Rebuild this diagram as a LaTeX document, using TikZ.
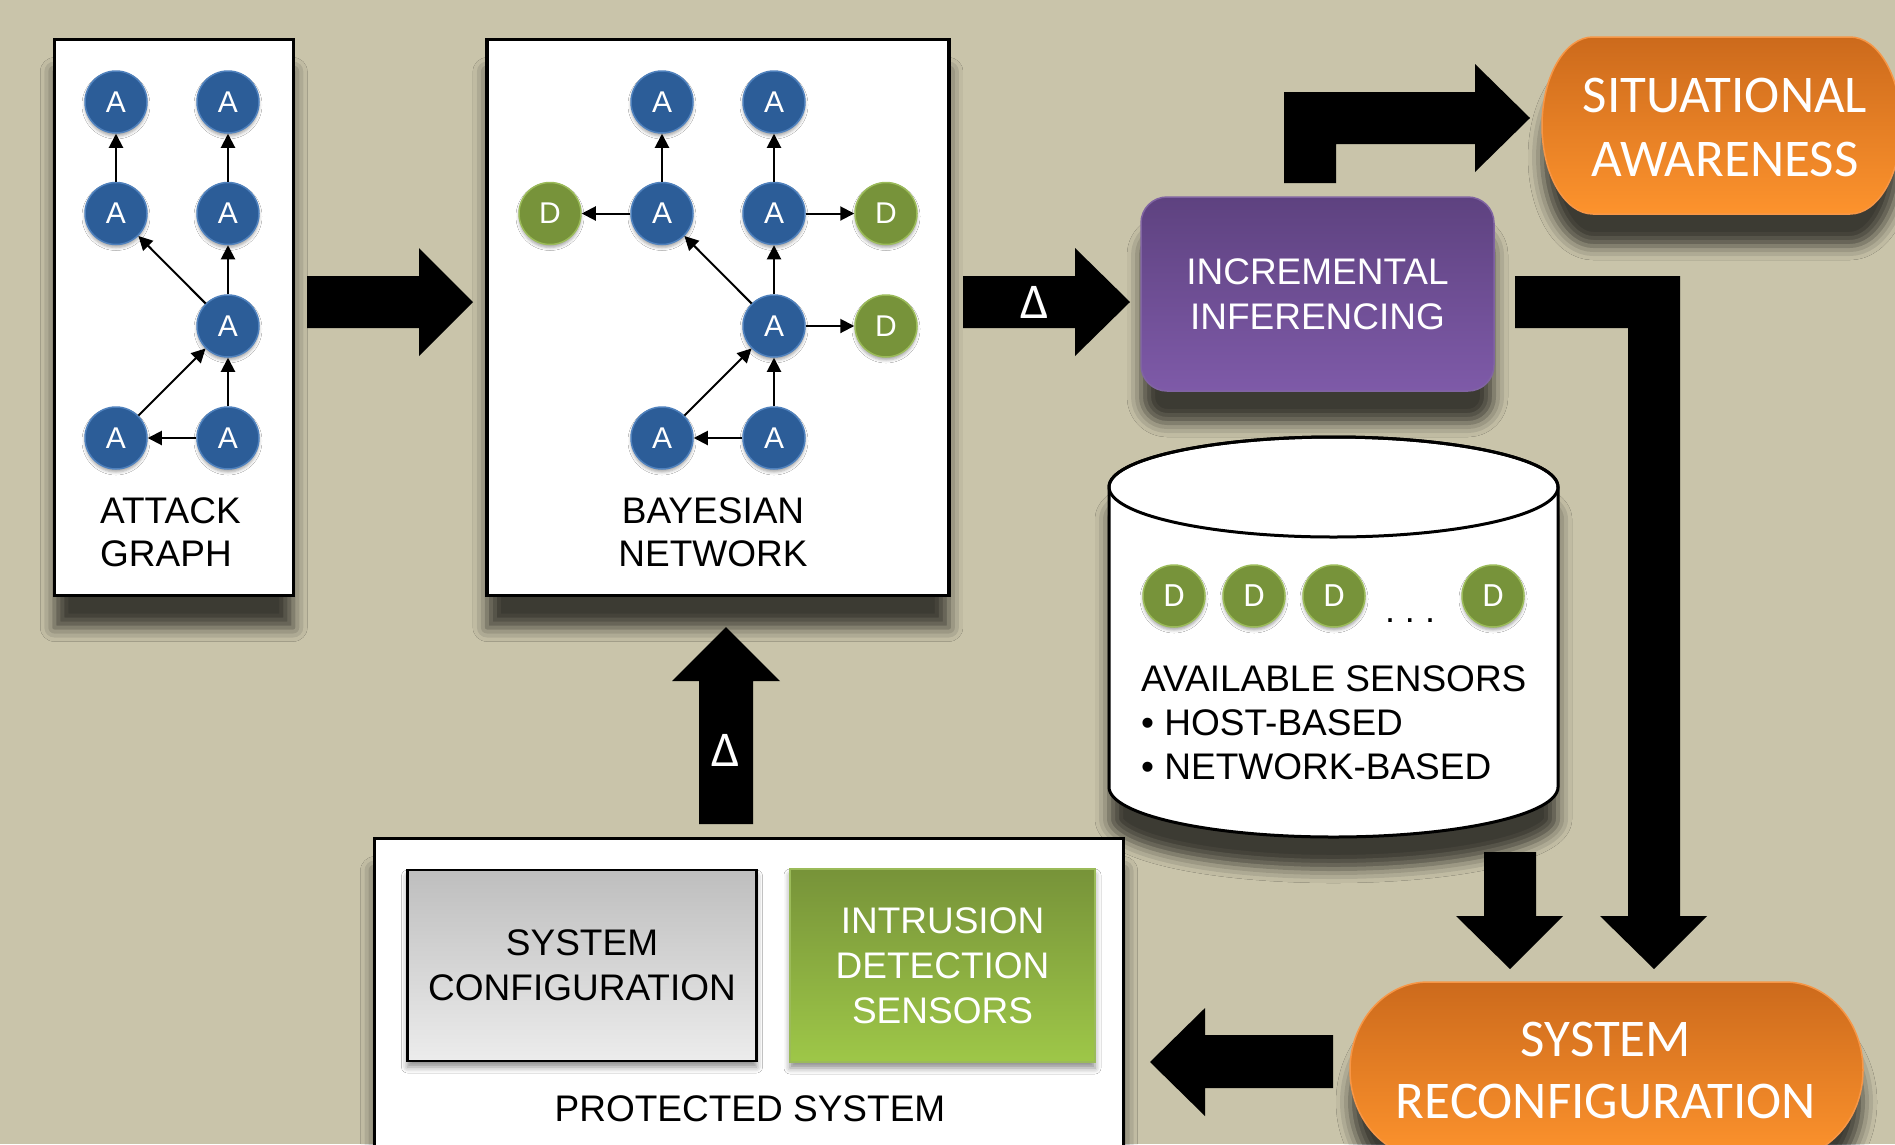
\documentclass[tikz,border=0pt]{standalone}
\usepackage{fontspec}
\setmainfont{Liberation Sans}
\newfontfamily\calib{Carlito}
\usetikzlibrary{arrows.meta,shadows.blur}

\definecolor{bg}{RGB}{201,196,170}
\definecolor{nodeblue}{RGB}{44,93,152}
\definecolor{nodeblueedge}{RGB}{79,129,189}
\definecolor{nodegreen}{RGB}{119,147,58}
\definecolor{nodegreenedge}{RGB}{155,187,89}
\definecolor{purpletop}{RGB}{94,66,128}
\definecolor{purplebot}{RGB}{126,90,168}
\definecolor{purpleedge}{RGB}{128,100,162}
\definecolor{orangetop}{RGB}{204,106,28}
\definecolor{orangebot}{RGB}{253,147,45}
\definecolor{orangeedge}{RGB}{247,150,70}
\definecolor{idstop}{RGB}{119,147,57}
\definecolor{idsbot}{RGB}{158,199,72}
\definecolor{graytop}{RGB}{190,190,190}
\definecolor{graybot}{RGB}{236,236,236}

\tikzset{
  boxshadow/.style={blur shadow={shadow xshift=0pt,shadow yshift=-32pt,shadow blur radius=14pt,shadow opacity=70}},
  smallshadow/.style={blur shadow={shadow xshift=0pt,shadow yshift=-6pt,shadow blur radius=6pt,shadow opacity=45}},
  nodeshadow/.style={blur shadow={shadow xshift=0pt,shadow yshift=-3pt,shadow blur radius=3pt,shadow opacity=35}},
  panel/.style={draw=black,line width=3.2pt,fill=white,inner sep=0pt,boxshadow},
  anode/.style={circle,minimum size=62pt,inner sep=0pt,fill=nodeblue,draw=nodeblueedge,
    line width=1.5pt,text=white,font=\fontsize{30}{30}\selectfont,nodeshadow},
  dnode/.style={anode,fill=nodegreen,draw=nodegreenedge},
  sensornode/.style={dnode,font=\calib\fontsize{34}{34}\selectfont},
  link/.style={line width=2pt,-{Triangle[length=14pt,width=14pt]}},
  blockarrow/.style={fill=black},
  captiontext/.style={inner sep=0pt,font=\fontsize{37}{43}\selectfont,align=center},
  deltatext/.style={inner sep=0pt,text=white,font=\calib\fontsize{50}{50}\selectfont},
  stadium/.style={top color=orangetop,bottom color=orangebot,draw=orangeedge,line width=1.5pt,boxshadow},
  stadiumtext/.style={inner sep=0pt,text=white,align=center,font=\calib\fontsize{53}{64}\selectfont},
}

\begin{document}
\begin{tikzpicture}[x=1pt,y=-1pt]
\useasboundingbox (0,0) rectangle (1895,1144);
\clip (0,0) rectangle (1895,1144);
\fill[bg] (0,0) rectangle (1895,1144);

% ---------- attack graph ----------
\node[panel,minimum width=239pt,minimum height=556pt] (agpanel) at (173.8,317.5) {};
\node[anode] (g11) at (116,102) {A};
\node[anode] (g12) at (228,102) {A};
\node[anode] (g21) at (116,213.5) {A};
\node[anode] (g22) at (228,213.5) {A};
\node[anode] (g32) at (228,326) {A};
\node[anode] (g41) at (116,438) {A};
\node[anode] (g42) at (228,438) {A};
\draw[link] (g21) -- (g11);
\draw[link] (g22) -- (g12);
\draw[link] (g32) -- (g21);
\draw[link] (g32) -- (g22);
\draw[link] (g41) -- (g32);
\draw[link] (g42) -- (g32);
\draw[link] (g42) -- (g41);
\node[captiontext,align=left,anchor=west] (agcap) at (100,532.5) {ATTACK\\GRAPH};

% ---------- bayesian network ----------
\node[panel,minimum width=462pt,minimum height=556pt] (bnpanel) at (717.9,317.5) {};
\node[anode] (b11) at (662,102) {A};
\node[anode] (b12) at (774,102) {A};
\node[dnode] (bd1) at (550,213.5) {D};
\node[anode] (b21) at (662,213.5) {A};
\node[anode] (b22) at (774,213.5) {A};
\node[dnode] (bd2) at (886,213.5) {D};
\node[anode] (b32) at (774,326) {A};
\node[dnode] (bd3) at (886,326) {D};
\node[anode] (b41) at (662,438) {A};
\node[anode] (b42) at (774,438) {A};
\draw[link] (b21) -- (b11);
\draw[link] (b22) -- (b12);
\draw[link] (b21) -- (bd1);
\draw[link] (b22) -- (bd2);
\draw[link] (b32) -- (b21);
\draw[link] (b32) -- (b22);
\draw[link] (b32) -- (bd3);
\draw[link] (b41) -- (b32);
\draw[link] (b42) -- (b32);
\draw[link] (b42) -- (b41);
\node[captiontext] (bncap) at (713,532.5) {BAYESIAN\\NETWORK};

% ---------- incremental inferencing ----------
\node[rounded corners=26pt,minimum width=353pt,minimum height=194pt,inner sep=0pt,
  top color=purpletop,bottom color=purplebot,draw=purpleedge,line width=1.5pt,boxshadow,
  text=white,align=center,font=\fontsize{37}{45}\selectfont] (inc) at (1317.5,294) {INCREMENTAL\\INFERENCING};

% ---------- situational awareness ----------
\path[stadium] (1593,37) -- (1850,37)
  arc[start angle=-90,end angle=90,x radius=51,y radius=88.5] -- (1593,214)
  arc[start angle=90,end angle=270,x radius=51,y radius=88.5] -- cycle;
\node[stadiumtext] (sa) at (1725,127) {SITUATIONAL\\AWARENESS};

% ---------- available sensors store ----------
\path[fill=white,draw=black,line width=3pt,boxshadow] (1109,487) -- (1109,787)
  arc[start angle=180,end angle=0,x radius=224.5,y radius=50] -- (1558,487)
  arc[start angle=0,end angle=-180,x radius=224.5,y radius=50] -- cycle;
\draw[line width=3pt] (1333.5,487) ellipse[x radius=224.5,y radius=50];
\coordinate (store) at (1333.5,637);
\node[sensornode] (s1) at (1174,596) {D};
\node[sensornode] (s2) at (1254,596) {D};
\node[sensornode] (s3) at (1334,596) {D};
\node[inner sep=0pt,font=\fontsize{36}{36}\selectfont] (sdots) at (1410,620.5) {.\ .\ .};
\node[sensornode] (s4) at (1493,596) {D};
\node[captiontext,align=left,anchor=west,font=\fontsize{37}{44}\selectfont] (storecap) at (1141,723)
  {AVAILABLE SENSORS\\• HOST-BASED\\• NETWORK-BASED};

% ---------- system reconfiguration ----------
\path[stadium] (1428,982) -- (1785,982)
  arc[start angle=-90,end angle=90,x radius=78,y radius=88] -- (1428,1158)
  arc[start angle=90,end angle=270,x radius=78,y radius=88] -- cycle;
\node[stadiumtext,font=\calib\fontsize{53}{62}\selectfont] (sr) at (1606,1070.5) {SYSTEM\\RECONFIGURATION};

% ---------- protected system ----------
\node[panel,minimum width=749pt,minimum height=332pt] (pspanel) at (749,1004.5) {};
\node[minimum width=349pt,minimum height=191pt,inner sep=0pt,top color=graytop,bottom color=graybot,
  draw=black,line width=2.5pt,smallshadow,align=center,font=\fontsize{37}{45}\selectfont] (syscfg) at (582,965.5)
  {SYSTEM\\CONFIGURATION};
\node[minimum width=305pt,minimum height=193pt,inner sep=0pt,top color=idstop,bottom color=idsbot,
  draw=nodegreenedge,line width=1.5pt,smallshadow,text=white,align=center,font=\fontsize{37}{45}\selectfont] (ids) at (942.5,965.5)
  {INTRUSION\\DETECTION\\SENSORS};
\node[captiontext] (pscap) at (750,1109) {PROTECTED SYSTEM};

% ---------- block arrows ----------
% attack graph -> bayesian network
\fill[blockarrow] (307,276) -- (419,276) -- (419,248) -- (473,302) -- (419,356) -- (419,328) -- (307,328) -- cycle;
% bayesian network -> incremental inferencing
\fill[blockarrow] (963,276) -- (1075,276) -- (1075,248) -- (1130,302) -- (1075,356) -- (1075,328) -- (963,328) -- cycle;
\node[deltatext] (delta1) at (1035,302) {Δ};
% incremental inferencing -> situational awareness
\fill[blockarrow] (1284,183) -- (1284,92) -- (1475,92) -- (1475,64) -- (1530,118) -- (1475,172)
  -- (1475,144) -- (1336,144) -- (1336,183) -- cycle;
% incremental inferencing -> system reconfiguration
\fill[blockarrow] (1515,276) -- (1680,276) -- (1680,916) -- (1707,916) -- (1654,969) -- (1600,916)
  -- (1628,916) -- (1628,328) -- (1515,328) -- cycle;
% sensor store -> system reconfiguration
\fill[blockarrow] (1484,852) -- (1536,852) -- (1536,916) -- (1563,916) -- (1510,969) -- (1456,916) -- (1484,916) -- cycle;
% system reconfiguration -> protected system
\fill[blockarrow] (1333,1035) -- (1205,1035) -- (1205,1008) -- (1150,1062) -- (1205,1116) -- (1205,1088) -- (1333,1088) -- cycle;
% protected system -> bayesian network
\fill[blockarrow] (699,824) -- (699,681) -- (672,681) -- (726,627) -- (780,681) -- (753,681) -- (753,824) -- cycle;
\node[deltatext] (delta2) at (726,750) {Δ};
\end{tikzpicture}
\end{document}
